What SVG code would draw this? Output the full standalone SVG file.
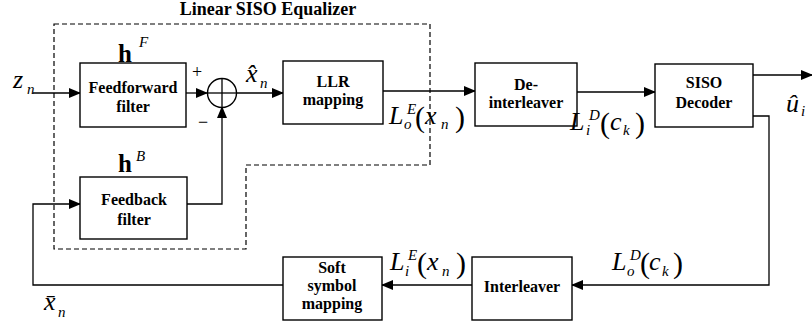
<svg xmlns="http://www.w3.org/2000/svg" width="812" height="328" viewBox="0 0 812 328">
<defs>
<marker id="ah" markerWidth="12" markerHeight="10" refX="11" refY="5" orient="auto" markerUnits="userSpaceOnUse">
<path d="M0,0 L12,5 L0,10 Z" fill="#000"/>
</marker>
<style>
text{font-family:"Liberation Serif","Times New Roman","DejaVu Serif",serif;fill:#000}
.box{fill:#fff;stroke:#000;stroke-width:1.4}
.ln{fill:none;stroke:#000;stroke-width:1.3}
.dash{fill:none;stroke:#000;stroke-width:1.2;stroke-dasharray:5,3}
.bt{font-weight:bold;font-size:16px;text-anchor:middle}
.m{font-style:italic;font-size:26px}
.s{font-style:italic;font-size:15px}
.p{font-size:30px}
.hb{font-weight:bold;font-size:25px}
.r{font-size:18px}
</style>
</defs>
<rect width="812" height="328" fill="#fff"/>

<g id="equalizer-region">
<path class="dash" d="M54,24 H430 V165 H246 V249 H54 Z"/>
<text x="268" y="15" font-weight="bold" font-size="18" text-anchor="middle">Linear SISO Equalizer</text>
</g>

<g id="connectors">
<line class="ln" x1="33" y1="93" x2="80" y2="93" marker-end="url(#ah)"/>
<line class="ln" x1="186" y1="93" x2="207" y2="93" marker-end="url(#ah)"/>
<line class="ln" x1="236" y1="93" x2="283" y2="93" marker-end="url(#ah)"/>
<polyline class="ln" points="187,204 222,204 222,107" marker-end="url(#ah)"/>
<line class="ln" x1="383" y1="91" x2="475" y2="91" marker-end="url(#ah)"/>
<line class="ln" x1="577" y1="92" x2="655" y2="92" marker-end="url(#ah)"/>
<line class="ln" x1="753" y1="75" x2="812" y2="75" marker-end="url(#ah)"/>
<polyline class="ln" points="753,116 769,116 769,285 572,285" marker-end="url(#ah)"/>
<line class="ln" x1="472" y1="285" x2="382" y2="285" marker-end="url(#ah)"/>
<polyline class="ln" points="283,285 33,285 33,204 80,204" marker-end="url(#ah)"/>
</g>

<g id="feedforward">
<rect class="box" x="80" y="63" width="106" height="64"/>
<text class="bt" x="133" y="93">Feedforward</text>
<text class="bt" x="133" y="112">filter</text>
<text class="hb" x="118" y="62">h</text>
<text class="s" x="139" y="47">F</text>
</g>

<g id="summer">
<circle cx="222" cy="93" r="14.5" fill="#fff" stroke="#000" stroke-width="1.4"/>
<line class="ln" x1="207.5" y1="93" x2="236.5" y2="93"/>
<line class="ln" x1="222" y1="78.5" x2="222" y2="107.5"/>
<text class="r" x="197" y="78" text-anchor="middle">+</text>
<text class="r" x="203" y="128" text-anchor="middle">−</text>
</g>

<g id="feedback">
<rect class="box" x="80" y="177" width="107" height="62"/>
<text class="bt" x="134" y="205">Feedback</text>
<text class="bt" x="134" y="225">filter</text>
<text class="hb" x="118" y="172">h</text>
<text class="s" x="136" y="161">B</text>
</g>

<g id="llr">
<rect class="box" x="283" y="61" width="100" height="63"/>
<text class="bt" x="333" y="87">LLR</text>
<text class="bt" x="333" y="105">mapping</text>
</g>

<g id="deinterleaver">
<rect class="box" x="475" y="63" width="102" height="63"/>
<text class="bt" x="526" y="90">De-</text>
<text class="bt" x="526" y="108">interleaver</text>
</g>

<g id="decoder">
<rect class="box" x="655" y="64" width="98" height="63"/>
<text class="bt" x="704" y="88">SISO</text>
<text class="bt" x="704" y="108">Decoder</text>
</g>

<g id="interleaver">
<rect class="box" x="472" y="257" width="100" height="63"/>
<text class="bt" x="522" y="292">Interleaver</text>
</g>

<g id="softmap">
<rect class="box" x="283" y="257" width="99" height="63"/>
<text class="bt" x="332" y="273">Soft</text>
<text class="bt" x="332" y="291">symbol</text>
<text class="bt" x="332" y="309">mapping</text>
</g>

<g id="labels">
<text class="m" x="13" y="88">z</text><text class="s" x="27" y="94">n</text>
<text class="m" x="246" y="82">x̂</text><text class="s" x="260" y="88">n</text>
<text class="m" x="786" y="112">û</text><text class="s" x="801" y="116">i</text>
<text class="m" x="44" y="310">x̄</text><text class="s" x="58" y="317">n</text>

<text class="m" x="389" y="124">L</text><text class="s" x="407" y="114">E</text><text class="s" x="404" y="129">o</text>
<text class="p" x="415" y="127">(</text><text class="m" x="425" y="124">x</text><text class="s" x="441" y="129">n</text><text class="p" x="455" y="127">)</text>

<text class="m" x="570" y="130">L</text><text class="s" x="589" y="120">D</text><text class="s" x="586" y="135">i</text>
<text class="p" x="600" y="133">(</text><text class="m" x="610" y="130">c</text><text class="s" x="623" y="135">k</text><text class="p" x="635" y="133">)</text>

<text class="m" x="390" y="270">L</text><text class="s" x="408" y="260">E</text><text class="s" x="405" y="276">i</text>
<text class="p" x="417" y="273">(</text><text class="m" x="427" y="270">x</text><text class="s" x="442" y="276">n</text><text class="p" x="456" y="273">)</text>

<text class="m" x="612" y="270">L</text><text class="s" x="630" y="260">D</text><text class="s" x="627" y="276">o</text>
<text class="p" x="640" y="273">(</text><text class="m" x="649" y="270">c</text><text class="s" x="662" y="276">k</text><text class="p" x="673" y="273">)</text>
</g>
</svg>
